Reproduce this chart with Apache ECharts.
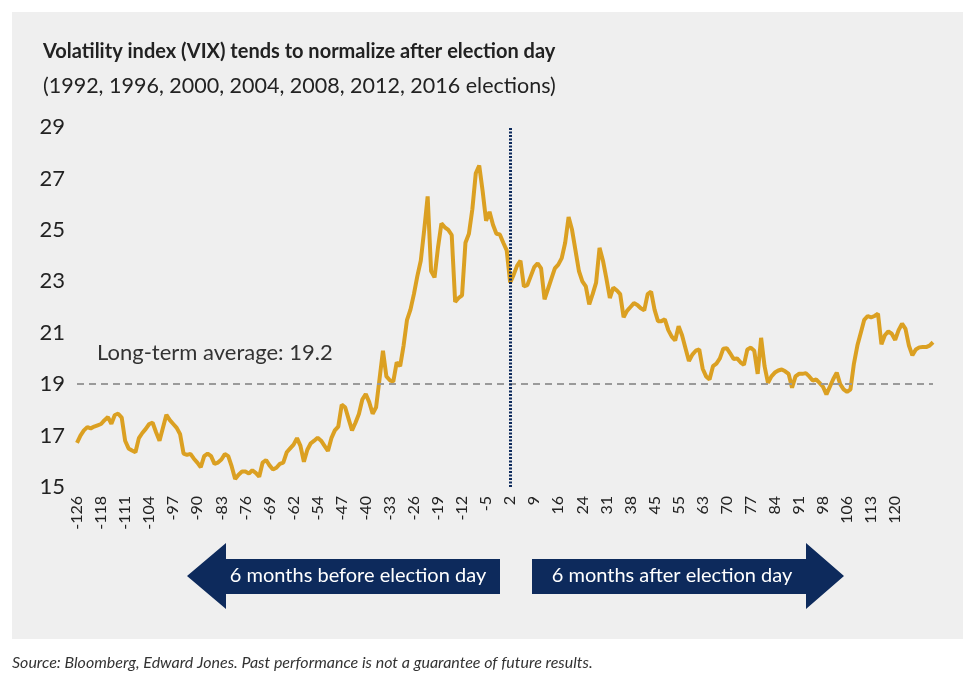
<!DOCTYPE html>
<html>
<head>
<meta charset="utf-8">
<title>VIX around election day</title>
<script src="https://cdn.jsdelivr.net/npm/echarts@6/dist/echarts.min.js"></script>
<style>
  html, body { margin: 0; padding: 0; background: #ffffff; }
  #chart { width: 975px; height: 676px; }
</style>
</head>
<body>
<div id="chart"></div>
<script>
// trading-day offsets from election day (a few calendar days are absent in the source)
const firstDay = -126;
const lastDay = 131;
const missingDays = [-122, -58, 20, 49, 51, 53, 59, 102];

const days = [];
for (let d = firstDay; d <= lastDay; d++) {
  if (missingDays.indexOf(d) < 0) days.push(String(d));
}

// average VIX level across the 1992-2016 elections
const vix = [
  16.72, 17.0, 17.2, 17.33, 17.28, 17.35, 17.4, 17.45, 17.6, 17.72,
  17.46, 17.8, 17.85, 17.7, 16.8, 16.5, 16.42, 16.35, 16.9, 17.1,
  17.26, 17.45, 17.5, 17.13, 16.8, 17.3, 17.81, 17.6, 17.45, 17.3,
  17.05, 16.3, 16.25, 16.29, 16.1, 15.95, 15.77, 16.2, 16.3, 16.2,
  15.9, 15.95, 16.07, 16.28, 16.2, 15.8, 15.31, 15.48, 15.6, 15.6,
  15.52, 15.65, 15.55, 15.4, 15.95, 16.05, 15.84, 15.68, 15.75, 15.9,
  15.95, 16.35, 16.5, 16.65, 16.9, 16.6, 15.98, 16.45, 16.7, 16.8,
  16.92, 16.8, 16.6, 16.4, 16.9, 17.2, 17.35, 18.2, 18.1, 17.65,
  17.2, 17.5, 17.84, 18.4, 18.62, 18.3, 17.85, 18.1, 19.2, 20.3,
  19.3, 19.15, 19.1, 19.85, 19.7, 20.5, 21.5, 21.9, 22.5, 23.2,
  23.8, 25.0, 26.3, 23.4, 23.15, 24.3, 25.25, 25.1, 25.0, 24.8,
  22.2, 22.35, 22.45, 24.5, 24.85, 25.8, 27.2, 27.5, 26.5, 25.35,
  25.7, 25.2, 24.85, 24.82, 24.5, 24.2, 22.95, 23.25, 23.6, 23.8,
  22.8, 22.85, 23.2, 23.55, 23.7, 23.5, 22.3, 22.7, 23.1, 23.5,
  23.65, 23.9, 24.5, 25.5, 25.0, 24.2, 23.4, 23.0, 22.8, 22.1,
  22.5, 22.95, 24.3, 23.8, 23.1, 22.35, 22.75, 22.65, 22.5, 21.6,
  21.85, 22.0, 22.15, 22.08, 21.95, 21.87, 22.5, 22.6, 21.9, 21.45,
  21.45, 21.52, 21.1, 20.85, 20.7, 21.25, 20.9, 20.4, 19.9, 20.15,
  20.3, 20.35, 19.6, 19.3, 19.18, 19.7, 19.8, 20.0, 20.38, 20.4,
  20.2, 19.98, 20.0, 19.85, 19.75, 20.35, 20.42, 20.3, 19.4, 20.8,
  19.7, 19.05, 19.3, 19.45, 19.53, 19.57, 19.5, 19.4, 18.86, 19.3,
  19.4, 19.4, 19.43, 19.3, 19.14, 19.18, 19.05, 18.9, 18.6, 18.9,
  19.2, 19.45, 19.0, 18.8, 18.7, 18.8, 19.8, 20.5, 21.0, 21.5,
  21.65, 21.6, 21.65, 21.74, 20.55, 20.9, 21.05, 20.96, 20.72, 21.1,
  21.35, 21.15, 20.5, 20.12, 20.35, 20.43, 20.44, 20.44, 20.5, 20.63
];

const yTicks = [15, 17, 19, 21, 23, 25, 27, 29];
const longTermLevel = 19;
const longTermLabel = 'Long-term average: 19.2';
const electionDay = '2';
const lastLabelIndex = 238;

const titleText = 'Volatility index (VIX) tends to normalize after election day';
const subtitleText = '(1992, 1996, 2000, 2004, 2008, 2012, 2016 elections)';
const sourceText = 'Source: Bloomberg, Edward Jones. Past performance is not a guarantee of future results.';
const beforeText = '6 months before election day';
const afterText = '6 months after election day';

const font = 'Lato, "Open Sans", sans-serif';
const navy = '#0d2a5c';

const chart = echarts.init(document.getElementById('chart'));

chart.setOption({
  backgroundColor: '#ffffff',
  animation: false,
  textStyle: { fontFamily: font },
  title: [
    {
      text: titleText,
      left: 38, top: 37,
      textStyle: { fontFamily: font, fontSize: 20, fontWeight: 'bold', color: '#222' }
    },
    {
      text: subtitleText,
      left: 38, top: 70,
      textStyle: { fontFamily: font, fontSize: 21.5, fontWeight: 'normal', color: '#222' }
    }
  ],
  grid: { left: 77, right: 42, top: 127, bottom: 189 },
  xAxis: {
    type: 'category',
    data: days,
    boundaryGap: false,
    axisLine: { show: false },
    axisTick: { show: false },
    axisLabel: {
      rotate: 90,
      margin: 9,
      fontSize: 16,
      color: '#222',
      fontFamily: font,
      interval: (index) => index % 7 === 0 && index <= lastLabelIndex
    }
  },
  yAxis: {
    type: 'value',
    min: yTicks[0],
    max: yTicks[yTicks.length - 1],
    interval: 2,
    splitLine: { show: false },
    axisLine: { show: false },
    axisTick: { show: false },
    axisLabel: { fontSize: 22, color: '#222', margin: 12, fontFamily: font }
  },
  series: [
    {
      type: 'line',
      data: vix,
      showSymbol: false,
      lineStyle: { color: '#dba022', width: 4 },
      z: 3,
      markLine: {
        silent: true,
        symbol: 'none',
        animation: false,
        data: [
          {
            yAxis: longTermLevel,
            lineStyle: { color: '#9a9a9a', width: 2, type: [7, 5] },
            label: {
              show: true,
              position: 'insideStartTop',
              distance: [20, 20],
              formatter: longTermLabel,
              fontSize: 22,
              color: '#333',
              fontFamily: font
            }
          },
          {
            xAxis: electionDay,
            lineStyle: { color: navy, width: 3, type: [2, 1.5] },
            label: { show: false }
          }
        ]
      }
    }
  ],
  graphic: [
    {
      type: 'rect',
      z: -100,
      shape: { x: 12, y: 12, width: 951, height: 627 },
      style: { fill: '#efefef' }
    },
    {
      type: 'polygon',
      shape: { points: [[187, 576], [226, 543], [226, 559], [500, 559], [500, 594], [226, 594], [226, 609]] },
      style: { fill: navy }
    },
    {
      type: 'text',
      x: 358, y: 576,
      style: { text: beforeText, fill: '#fff', fontSize: 20, fontFamily: font, align: 'center', verticalAlign: 'middle' }
    },
    {
      type: 'polygon',
      shape: { points: [[532, 559], [806, 559], [806, 543], [844, 576], [806, 609], [806, 594], [532, 594]] },
      style: { fill: navy }
    },
    {
      type: 'text',
      x: 672, y: 576,
      style: { text: afterText, fill: '#fff', fontSize: 20, fontFamily: font, align: 'center', verticalAlign: 'middle' }
    },
    {
      type: 'text',
      x: 12, y: 663,
      style: { text: sourceText, fill: '#333', fontSize: 16, fontStyle: 'italic', fontFamily: font, verticalAlign: 'middle' }
    }
  ]
});
</script>
</body>
</html>
